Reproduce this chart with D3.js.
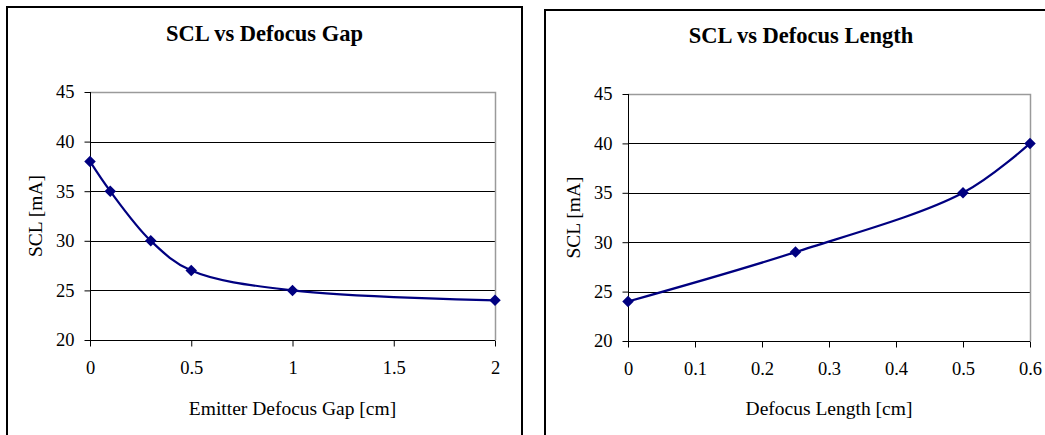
<!DOCTYPE html>
<html>
<head>
<meta charset="utf-8">
<script src="https://cdn.jsdelivr.net/npm/d3@7"></script>
<style>
  body { margin: 0; background: #fff; }
  svg { display: block; }
  text { font-family: "Liberation Serif", "Times New Roman", serif; fill: #000; }
</style>
</head>
<body>
<svg id="chart" width="1045" height="435"></svg>
<script>
// data
const gapX = [0, 0.1, 0.3, 0.5, 1, 2];
const gapSCL = [38, 35, 30, 27, 25, 24];
const lengthX = [0, 0.25, 0.5, 0.6];
const lengthSCL = [24, 29, 35, 40];

const sclTicks = [20, 25, 30, 35, 40, 45];
const gapTicks = [0, 0.5, 1, 1.5, 2];
const lengthTicks = [0, 0.1, 0.2, 0.3, 0.4, 0.5, 0.6];

const lineColor = "#000080";

const svg = d3.select("#chart");

function drawChart(opts) {
    const {frame, plot, xs, ys, xTicks, xDomain, title, xTitle} = opts;

    // outer frame (runs off the picture on some sides)
    svg.append("rect")
        .attr("x", frame.x).attr("y", frame.y)
        .attr("width", frame.w).attr("height", frame.h)
        .attr("fill", "none").attr("stroke", "#000").attr("stroke-width", 2);

    const x = d3.scaleLinear().domain(xDomain).range([plot.left, plot.right]);
    const y = d3.scaleLinear().domain([20, 45]).range([plot.bottom, plot.top]);

    const g = svg.append("g");

    // gridlines
    g.selectAll("line.grid")
        .data(sclTicks.filter(t => t > 20 && t < 45))
        .enter().append("line")
        .attr("class", "grid")
        .attr("x1", plot.left).attr("x2", plot.right)
        .attr("y1", d => Math.round(y(d)) + 0.5).attr("y2", d => Math.round(y(d)) + 0.5)
        .attr("stroke", "#000").attr("stroke-width", 1);

    // top + right border of plot area (gray)
    g.append("path")
        .attr("d", `M${plot.left},${Math.round(y(45)) + 0.5}H${Math.round(plot.right) + 0.5}V${plot.bottom}`)
        .attr("fill", "none").attr("stroke", "#9a9a9a").attr("stroke-width", 1.5);

    // axes
    const yAxis = d3.axisLeft(y).tickValues(sclTicks).tickSize(6).tickPadding(10).tickFormat(d3.format("d"));
    const xAxis = d3.axisBottom(x).tickValues(xTicks).tickSize(6).tickPadding(14).tickFormat(d => String(d));

    const ya = g.append("g").attr("transform", `translate(${Math.round(plot.left) + 0.5},0)`).call(yAxis);
    const xa = g.append("g").attr("transform", `translate(0,${Math.round(plot.bottom) + 0.5})`).call(xAxis);
    [ya, xa].forEach(a => {
        a.select(".domain").attr("stroke", "#000");
        a.selectAll(".tick line").attr("stroke", "#000");
        a.selectAll("text").attr("font-size", 18.5).attr("font-family", "Liberation Serif, serif").attr("fill", "#000");
    });
    xa.selectAll(".domain").attr("d", `M${plot.left},0H${plot.right}`);
    ya.selectAll(".domain").attr("d", `M0,${plot.top}V${plot.bottom}`);

    // smoothed series
    const pts = xs.map((v, i) => [x(v), y(ys[i])]);
    g.append("path")
        .datum(pts)
        .attr("d", d3.line().curve(d3.curveCatmullRom.alpha(0.5)))
        .attr("fill", "none").attr("stroke", lineColor).attr("stroke-width", 2.2);

    g.selectAll("path.marker")
        .data(pts)
        .enter().append("path")
        .attr("class", "marker")
        .attr("d", d3.symbol(d3.symbolDiamond2, 85))
        .attr("transform", d => `translate(${d[0]},${d[1]})`)
        .attr("fill", lineColor);

    // titles
    svg.append("text")
        .attr("x", frame.x + frame.w / 2).attr("y", opts.titleY)
        .attr("text-anchor", "middle").attr("font-size", 22.5).attr("font-weight", "bold")
        .text(title);

    svg.append("text")
        .attr("x", (plot.left + plot.right) / 2).attr("y", 415)
        .attr("text-anchor", "middle").attr("font-size", 19.5)
        .text(xTitle);

    svg.append("text")
        .attr("transform", `translate(${plot.left - 48},${(plot.top + plot.bottom) / 2}) rotate(-90)`)
        .attr("text-anchor", "middle").attr("font-size", 19.5)
        .text("SCL [mA]");
}

drawChart({
    frame: {x: 7, y: 7, w: 515, h: 440},
    plot: {left: 90, right: 495, top: 92, bottom: 340},
    xs: gapX, ys: gapSCL, xTicks: gapTicks, xDomain: [0, 2],
    title: "SCL vs Defocus Gap", titleY: 41,
    xTitle: "Emitter Defocus Gap [cm]"
});

drawChart({
    frame: {x: 545, y: 10, w: 512, h: 440},
    plot: {left: 628, right: 1030, top: 94, bottom: 341},
    xs: lengthX, ys: lengthSCL, xTicks: lengthTicks, xDomain: [0, 0.6],
    title: "SCL vs Defocus Length", titleY: 43,
    xTitle: "Defocus Length [cm]"
});
</script>
</body>
</html>
